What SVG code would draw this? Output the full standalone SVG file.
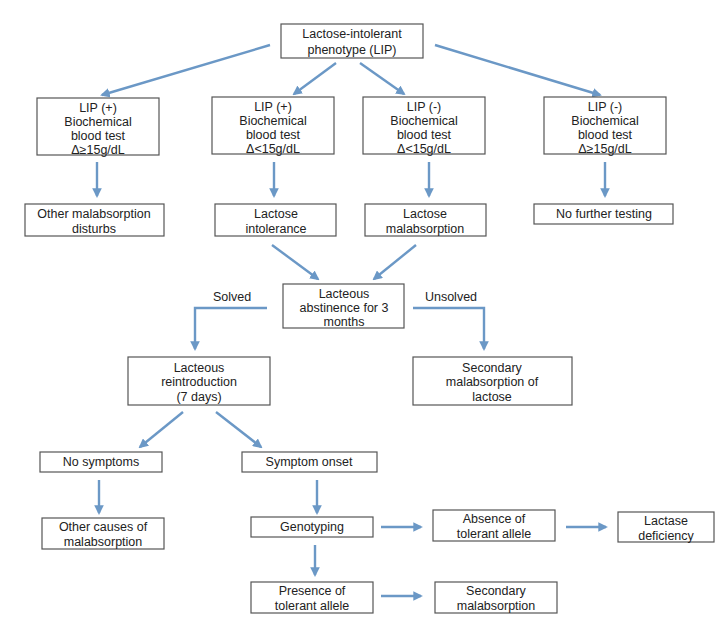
<svg xmlns="http://www.w3.org/2000/svg" width="726" height="623" viewBox="0 0 726 623">
<style>
.b{fill:#fff;stroke:#555;stroke-width:1.2}
text{font-family:"Liberation Sans",Arial,sans-serif;font-size:12.5px;fill:#222;text-anchor:middle}
.c path{fill:none;stroke:#6b98c6;stroke-width:2.4}
</style>
<defs><marker id="a" viewBox="0 0 10 10" refX="8" refY="5" markerWidth="4" markerHeight="4" orient="auto"><path d="M0,0L10,5L0,10z" fill="#6b98c6"/></marker></defs>
<rect width="726" height="623" fill="#fff"/>
<g class="c">
<path marker-end="url(#a)" d="M270,45L102,95"/>
<path marker-end="url(#a)" d="M336,63L294,94"/>
<path marker-end="url(#a)" d="M360,63L404,94"/>
<path marker-end="url(#a)" d="M435,45L600,95"/>
<path marker-end="url(#a)" d="M97,162V196"/>
<path marker-end="url(#a)" d="M274,162V196"/>
<path marker-end="url(#a)" d="M429,162V196"/>
<path marker-end="url(#a)" d="M605,162V196"/>
<path marker-end="url(#a)" d="M272,245L318,279"/>
<path marker-end="url(#a)" d="M416,245L374,279"/>
<path marker-end="url(#a)" d="M267,308H195V349"/>
<path marker-end="url(#a)" d="M413,308H484V349"/>
<path marker-end="url(#a)" d="M183,412L140,447"/>
<path marker-end="url(#a)" d="M216,412L261,447"/>
<path marker-end="url(#a)" d="M99,480V513"/>
<path marker-end="url(#a)" d="M317,480V513"/>
<path marker-end="url(#a)" d="M381,527H421"/>
<path marker-end="url(#a)" d="M566,527H606"/>
<path marker-end="url(#a)" d="M315,545V575"/>
<path marker-end="url(#a)" d="M381,596H421"/>
</g>
<text x="232" y="301">Solved</text>
<text x="451" y="301">Unsolved</text>
<g id="n0"><rect class="b" x="281" y="24" width="142" height="34"/><text x="352" y="38">Lactose-intolerant</text><text x="352" y="54">phenotype (LIP)</text></g>
<g id="n1"><rect class="b" x="37" y="98" width="122" height="57"/><text x="98" y="112">LIP  (+)</text><text x="98" y="126">Biochemical</text><text x="98" y="140">blood test</text><text x="98" y="154">Δ≥15g/dL</text></g>
<g id="n2"><rect class="b" x="212" y="97" width="122" height="57"/><text x="273" y="111">LIP (+)</text><text x="273" y="125">Biochemical</text><text x="273" y="139">blood test</text><text x="273" y="153">Δ&lt;15g/dL</text></g>
<g id="n3"><rect class="b" x="363" y="97" width="122" height="57"/><text x="424" y="111">LIP (-)</text><text x="424" y="125">Biochemical</text><text x="424" y="139">blood test</text><text x="424" y="153">Δ&lt;15g/dL</text></g>
<g id="n4"><rect class="b" x="544" y="97" width="122" height="57"/><text x="605" y="111">LIP (-)</text><text x="605" y="125">Biochemical</text><text x="605" y="139">blood test</text><text x="605" y="153">Δ≥15g/dL</text></g>
<g id="n5"><rect class="b" x="25" y="204" width="139" height="32"/><text x="94" y="218">Other  malabsorption</text><text x="94" y="233">disturbs</text></g>
<g id="n6"><rect class="b" x="215" y="204" width="121" height="32"/><text x="276" y="218">Lactose</text><text x="276" y="233">intolerance</text></g>
<g id="n7"><rect class="b" x="365" y="204" width="121" height="32"/><text x="425" y="218">Lactose</text><text x="425" y="233">malabsorption</text></g>
<g id="n8"><rect class="b" x="534" y="204" width="139" height="20"/><text x="604" y="218">No further testing</text></g>
<g id="n9"><rect class="b" x="283" y="284" width="121" height="44"/><text x="344" y="298">Lacteous</text><text x="344" y="312">abstinence for 3</text><text x="344" y="326">months</text></g>
<g id="n10"><rect class="b" x="128" y="357" width="142" height="48"/><text x="199" y="372">Lacteous</text><text x="199" y="386">reintroduction</text><text x="199" y="401">(7 days)</text></g>
<g id="n11"><rect class="b" x="413" y="357" width="159" height="48"/><text x="492" y="372">Secondary</text><text x="492" y="386">malabsorption of</text><text x="492" y="401">lactose</text></g>
<g id="n12"><rect class="b" x="40" y="452" width="122" height="20"/><text x="101" y="466">No symptoms</text></g>
<g id="n13"><rect class="b" x="242" y="452" width="135" height="20"/><text x="309" y="466">Symptom  onset</text></g>
<g id="n14"><rect class="b" x="42" y="518" width="122" height="31"/><text x="103" y="531">Other causes of</text><text x="103" y="546">malabsorption</text></g>
<g id="n15"><rect class="b" x="251" y="517" width="122" height="20"/><text x="312" y="531">Genotyping</text></g>
<g id="n16"><rect class="b" x="433" y="510" width="122" height="31"/><text x="494" y="523">Absence of</text><text x="494" y="538">tolerant allele</text></g>
<g id="n17"><rect class="b" x="618" y="512" width="96" height="30"/><text x="666" y="525">Lactase</text><text x="666" y="540">deficiency</text></g>
<g id="n18"><rect class="b" x="251" y="582" width="122" height="31"/><text x="312" y="595">Presence of</text><text x="312" y="610">tolerant allele</text></g>
<g id="n19"><rect class="b" x="435" y="582" width="122" height="31"/><text x="496" y="595">Secondary</text><text x="496" y="610">malabsorption</text></g>
</svg>
